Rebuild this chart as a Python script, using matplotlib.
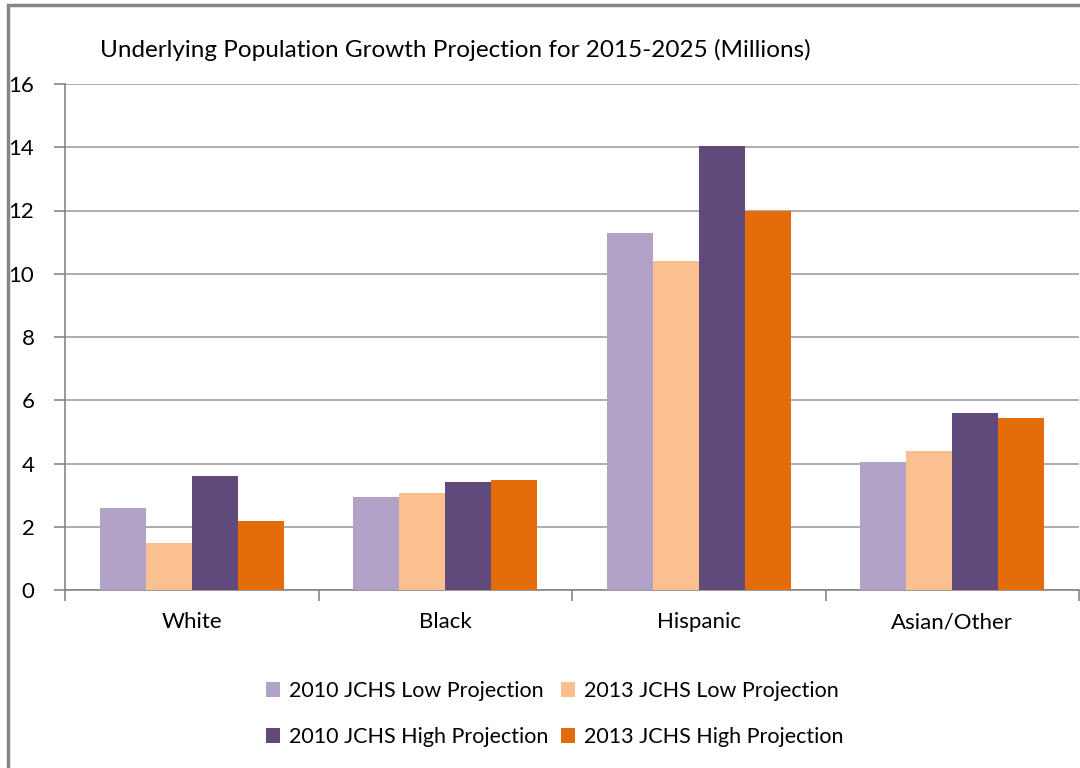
import numpy as np
import matplotlib
matplotlib.use('Agg')
from matplotlib import pyplot as plt
from matplotlib.patches import Rectangle

# -- chart data --
categories = ['White', 'Black', 'Hispanic', 'Asian/Other']
low_2010 = [2.6, 2.93, 11.3, 4.05]
low_2013 = [1.5, 3.07, 10.4, 4.4]
high_2010 = [3.6, 3.42, 14.05, 5.6]
high_2013 = [2.17, 3.47, 12.0, 5.43]
series_names = ['2010 JCHS Low Projection', '2013 JCHS Low Projection',
                '2010 JCHS High Projection', '2013 JCHS High Projection']
y_ticks = [0, 2, 4, 6, 8, 10, 12, 14, 16]

colors = ['#B3A2C7', '#FAC090', '#604A7B', '#E46C0A']

plt.rcParams['font.family'] = ['Lato', 'DejaVu Sans']

fig = plt.figure(figsize=(10.8, 7.68), dpi=100)
fig.patches.append(Rectangle((8 / 1080, -0.1), 1.2, 1 - 5 / 768 + 0.1, transform=fig.transFigure,
                             fill=False, edgecolor='#868686', linewidth=2.5, zorder=0))

ax = fig.add_axes([65 / 1080, 1 - 590 / 768, 1014 / 1080, 506 / 768])

x = np.arange(len(categories))
bar_w = 0.727 / 4
all_series = [low_2010, low_2013, high_2010, high_2013]
bars = []
for i, vals in enumerate(all_series):
    b = ax.bar(x - 0.3635 + bar_w * (i + 0.5), vals, bar_w, color=colors[i],
               label=series_names[i], zorder=3)
    bars.append(b)

ax.set_xlim(-0.5, len(categories) - 0.5)
ax.set_ylim(0, 16)
ax.set_yticks(y_ticks)
ax.set_yticklabels([str(t) for t in y_ticks], fontsize=16)
ax.yaxis.grid(True, color='#A0A0A0', linewidth=1.2, zorder=0)

# category ticks on boundaries, labels at centres
ax.set_xticks(np.arange(len(categories) + 1) - 0.5)
ax.set_xticklabels([])
ax.set_xticks(x, minor=True)
ax.set_xticklabels(categories, minor=True, fontsize=16)
ax.tick_params(axis='x', which='minor', length=0, pad=16)
ax.tick_params(axis='x', which='major', length=8, color='#868686', width=1.2)
ax.tick_params(axis='y', length=8, color='#868686', width=1.2, pad=14)

for s in ['top', 'right']:
    ax.spines[s].set_visible(False)
ax.spines['left'].set_color('#868686')
ax.spines['bottom'].set_color('#868686')
ax.spines['left'].set_linewidth(1.2)
ax.spines['bottom'].set_linewidth(1.2)

fig.text(100 / 1080, 1 - 50 / 768, 'Underlying Population Growth Projection for 2015-2025 (Millions)',
         fontsize=17.5, va='center', ha='left')

handles = [bars[0], bars[2], bars[1], bars[3]]
labels = [series_names[0], series_names[2], series_names[1], series_names[3]]
fig.legend(handles, labels, ncol=2, loc='center', bbox_to_anchor=(555 / 1080, 1 - 714 / 768),
           frameon=False, fontsize=15.5, handlelength=0.65, handleheight=0.65,
           handletextpad=0.4, columnspacing=0.6, labelspacing=1.2)

fig.savefig('out.png', dpi=100)
